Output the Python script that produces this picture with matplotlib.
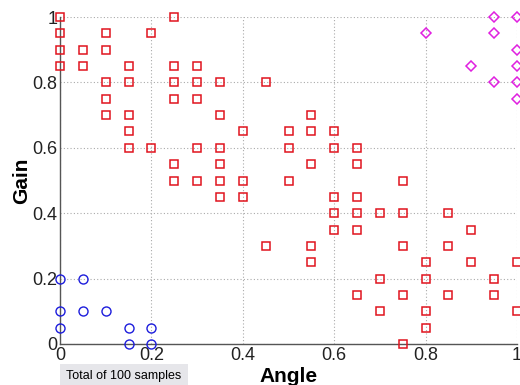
import numpy as np
import matplotlib
matplotlib.use('Agg')
import matplotlib.pyplot as plt

plt.rcParams['font.family'] = ['Liberation Sans', 'DejaVu Sans']

# class 1 (blue circles)
blue_angle = [0, 0.05, 0, 0.05, 0.1, 0, 0.15, 0.2, 0.15, 0.2]
blue_gain = [0.2, 0.2, 0.1, 0.1, 0.1, 0.05, 0.05, 0.05, 0, 0]

# class 2 (red squares)
red_angle = [0, 0, 0, 0,
             0.05, 0.05,
             0.1, 0.1, 0.1, 0.1, 0.1,
             0.15, 0.15, 0.15, 0.15, 0.15,
             0.2, 0.2,
             0.25, 0.25, 0.25, 0.25, 0.25, 0.25,
             0.3, 0.3, 0.3, 0.3, 0.3,
             0.35, 0.35, 0.35, 0.35, 0.35, 0.35,
             0.4, 0.4, 0.4,
             0.45, 0.45,
             0.5, 0.5, 0.5,
             0.55, 0.55, 0.55, 0.55, 0.55,
             0.6, 0.6, 0.6, 0.6, 0.6,
             0.65, 0.65, 0.65, 0.65, 0.65, 0.65,
             0.7, 0.7, 0.7,
             0.75, 0.75, 0.75, 0.75, 0.75,
             0.8, 0.8, 0.8, 0.8,
             0.85, 0.85, 0.85,
             0.9, 0.9,
             0.95, 0.95,
             1.0, 1.0]
red_gain = [1.0, 0.95, 0.9, 0.85,
            0.9, 0.85,
            0.95, 0.9, 0.8, 0.75, 0.7,
            0.85, 0.8, 0.7, 0.65, 0.6,
            0.95, 0.6,
            1.0, 0.85, 0.8, 0.75, 0.55, 0.5,
            0.85, 0.8, 0.75, 0.6, 0.5,
            0.8, 0.7, 0.6, 0.55, 0.5, 0.45,
            0.65, 0.5, 0.45,
            0.8, 0.3,
            0.65, 0.6, 0.5,
            0.7, 0.65, 0.55, 0.3, 0.25,
            0.65, 0.6, 0.45, 0.4, 0.35,
            0.6, 0.55, 0.45, 0.4, 0.35, 0.15,
            0.4, 0.2, 0.1,
            0.5, 0.4, 0.3, 0.15, 0.0,
            0.25, 0.2, 0.1, 0.05,
            0.4, 0.3, 0.15,
            0.35, 0.25,
            0.2, 0.15,
            0.25, 0.1]

# class 3 (magenta diamonds)
mag_angle = [0.95, 1.0, 0.8, 0.95, 1.0, 0.9, 1.0, 0.95, 1.0, 1.0]
mag_gain = [1.0, 1.0, 0.95, 0.95, 0.9, 0.85, 0.85, 0.8, 0.8, 0.75]

ticks = [0, 0.2, 0.4, 0.6, 0.8, 1]
tick_labels = ['0', '0.2', '0.4', '0.6', '0.8', '1']

fig = plt.figure(figsize=(5.2, 3.85), dpi=100)
ax = fig.add_axes([60/520, 1-344/385, 457/520, 327/385])

ax.plot(blue_angle, blue_gain, 'o', mfc='none', mec='#1c1cdc', ms=6.5, mew=1.0, clip_on=False, zorder=3)
ax.plot(red_angle, red_gain, 's', mfc='none', mec='#e0141e', ms=6, mew=1.1, clip_on=False, zorder=3)
ax.plot(mag_angle, mag_gain, 'D', mfc='none', mec='#e020e0', ms=5.5, mew=1.1, clip_on=False, zorder=3)

ax.set_xlim(0, 1)
ax.set_ylim(0, 1)
ax.set_xticks(ticks)
ax.set_xticklabels(tick_labels)
ax.set_yticks(ticks)
ax.set_yticklabels(tick_labels)
ax.tick_params(length=0, labelsize=13, colors='#222222', pad=2)

ax.grid(True, linestyle=(0, (1, 2)), color='#aaaaaa', linewidth=0.8)
ax.set_axisbelow(True)
for s in ['top', 'right']:
    ax.spines[s].set_visible(False)
for s in ['left', 'bottom']:
    ax.spines[s].set_color('#555555')
    ax.spines[s].set_linewidth(1.0)

ax.set_xlabel('Angle', fontsize=15, fontweight='bold', labelpad=2)
ax.set_ylabel('Gain', fontsize=15, fontweight='bold', labelpad=1)

fig.text(124/520, 1-376/385, 'Total of 100 samples', fontsize=9, ha='center', va='center',
         bbox=dict(boxstyle='square,pad=0.5', fc='#e6e6ea', ec='none'))

fig.savefig('out.png', dpi=100)
plt.close(fig)
